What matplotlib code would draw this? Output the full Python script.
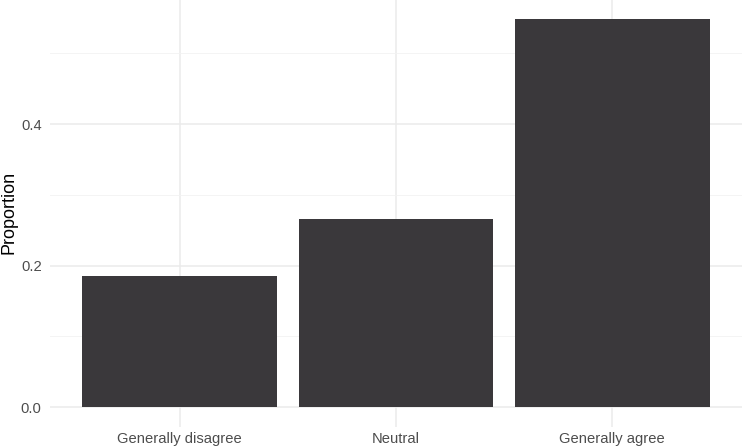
import matplotlib
matplotlib.use("Agg")
import matplotlib.pyplot as plt
import numpy as np

categories = ["Generally disagree", "Neutral", "Generally agree"]
proportions = [0.185, 0.266, 0.548]
y_ticks = [0.0, 0.2, 0.4]
y_tick_labels = ["0.0", "0.2", "0.4"]
y_minor = [0.1, 0.3, 0.5]

plt.rcParams['font.family'] = ['Liberation Sans', 'DejaVu Sans']

fig = plt.figure(figsize=(7.42, 4.48), dpi=100)
W, H = 742, 448
left, right, top, bottom = 50, 742, 0, 426.5
ax = fig.add_axes([left / W, 1 - bottom / H, (right - left) / W, (bottom - top) / H])

x = np.arange(1, len(categories) + 1)
ax.bar(x, proportions, width=0.9, color="#3a383b", zorder=3)

ymax = max(proportions)
ax.set_xlim(0.4, len(categories) + 0.6)
ax.set_ylim(-0.05 * ymax, 1.05 * ymax)

ax.set_xticks(x)
ax.set_xticklabels(categories)
ax.set_yticks(y_ticks)
ax.set_yticklabels(y_tick_labels)
ax.set_yticks(y_minor, minor=True)

for s in ax.spines.values():
    s.set_visible(False)
ax.tick_params(axis="both", which="both", length=0, colors="#4d4d4d", labelsize=10.6)
ax.tick_params(axis="x", pad=4)
ax.tick_params(axis="y", pad=6)
ax.grid(True, which="major", color="#ebebeb", linewidth=1.1, zorder=0)
ax.grid(True, which="minor", axis="y", color="#f2f2f2", linewidth=0.6, zorder=0)
ax.set_axisbelow(True)

fig.text(9 / W, 1 - 212 / H, "Proportion", rotation=90, ha="center", va="center",
         fontsize=13, color="black")

fig.savefig("out.png", dpi=100, facecolor="white")
